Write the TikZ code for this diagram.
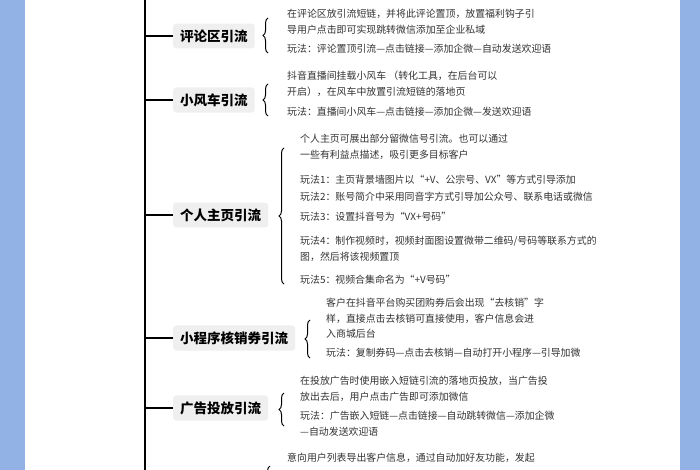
\documentclass[tikz,border=0pt]{standalone}
\usepackage{fontspec}
\setmainfont{Noto Sans CJK SC}
\usetikzlibrary{decorations.pathreplacing}
\definecolor{bgblue}{HTML}{92B2E6}
\definecolor{boxgray}{HTML}{EFEFEF}
\definecolor{txt}{HTML}{333333}

\begin{document}
\begin{tikzpicture}[x=1pt,y=-1pt,
    topic/.style={fill=boxgray,rounded corners=3pt,font=\fontsize{13.5}{15}\selectfont\bfseries,text=black,inner xsep=7pt,inner ysep=6pt,anchor=west},
    note/.style={font=\fontsize{9.9}{15.5}\selectfont,text=txt,align=left,anchor=north west,inner sep=0pt},
    brace/.style={decorate,decoration={brace,amplitude=5pt,mirror},line width=1pt},
    branch/.style={line width=1.3pt}]
    \useasboundingbox (0,0) rectangle (700,470);
    \clip (0,0) rectangle (700,470);
    \fill[bgblue] (0,0) rectangle (700,470);
    \fill[white] (25,0) rectangle (680,470);

    % trunk
    \coordinate (top) at (145,0);
    \coordinate (bot) at (145,470);
    \draw[branch] (top) -- (bot);

    % topics
    \node[topic] (t1) at (173,36) {评论区引流};
    \node[topic] (t2) at (173,100) {小风车引流};
    \node[topic] (t3) at (173,215) {个人主页引流};
    \node[topic] (t4) at (173,338) {小程序核销券引流};
    \node[topic] (t5) at (173,408) {广告投放引流};
    \foreach \t in {t1,t2,t3,t4,t5}
        \draw[branch] (\t.west) -- (\t.west -| top);

    % notes
    \node[note] (n1a) at (287,9) {在评论区放引流短链，并将此评论置顶，放置福利钩子引\\导用户点击即可实现跳转微信添加至企业私域};
    \node[note] (n1b) at (287,44) {玩法：评论置顶引流—点击链接—添加企微—自动发送欢迎语};
    \node[note] (n2a) at (287,71) {抖音直播间挂载小风车 （转化工具，在后台可以\\开启），在风车中放置引流短链的落地页};
    \node[note] (n2b) at (287,107) {玩法：直播间小风车—点击链接—添加企微—发送欢迎语};
    \node[note] (n3a) at (300,134) {个人主页可展出部分留微信号引流。也可以通过\\一些有利益点描述，吸引更多目标客户};
    \node[note] (n3b) at (300,175) {玩法1：主页背景墙图片以“+V、公宗号、VX”等方式引导添加};
    \node[note] (n3c) at (300,192) {玩法2：账号简介中采用同音字方式引导加公众号、联系电话或微信};
    \node[note] (n3d) at (300,212) {玩法3：设置抖音号为“VX+号码”};
    \node[note] (n3e) at (300,236) {玩法4：制作视频时，视频封面图设置微带二维码/号码等联系方式的\\图，然后将该视频置顶};
    \node[note] (n3f) at (300,275) {玩法5：视频合集命名为“+V号码”};
    \node[note] (n4a) at (326,298) {客户在抖音平台购买团购券后会出现“去核销”字\\样，直接点击去核销可直接使用，客户信息会进\\入商城后台};
    \node[note] (n4b) at (326,348) {玩法：复制券码—点击去核销—自动打开小程序—引导加微};
    \node[note] (n5a) at (300,376) {在投放广告时使用嵌入短链引流的落地页投放，当广告投\\放出去后，用户点击广告即可添加微信};
    \node[note] (n5b) at (300,411) {玩法：广告嵌入短链—点击链接—自动跳转微信—添加企微\\—自动发送欢迎语};
    \node[note] (n6a) at (287,453) {意向用户列表导出客户信息，通过自动加好友功能，发起};

    % braces
    \draw[brace] (268,18) -- (268,53);
    \draw[brace] (268,84) -- (268,116);
    \draw[brace] (284,148) -- (284,284);
    \draw[brace] (310,320) -- (310,358);
    \draw[brace] (284,393) -- (284,426);
    \draw[brace] (270,466) -- (270,500);
\end{tikzpicture}
\end{document}
